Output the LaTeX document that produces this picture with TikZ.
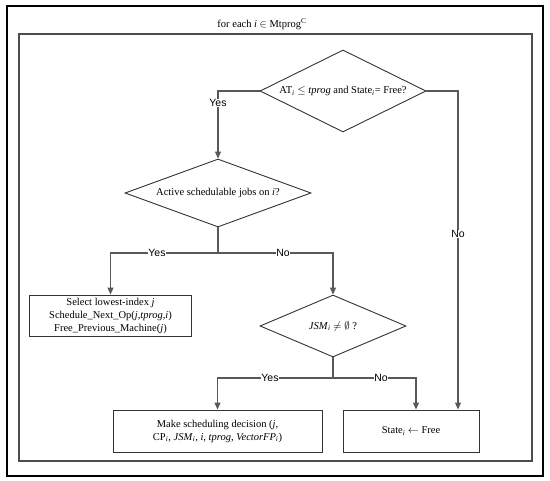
\documentclass[tikz,border=0pt]{standalone}
\usepackage{fontspec}
\setmainfont{Liberation Serif}
\newfontfamily\arialfont{Liberation Sans}
\usetikzlibrary{shapes.geometric,arrows.meta}
\newcommand{\sbi}{\textsubscript{\textit{i}}}
\begin{document}
\begin{tikzpicture}[x=1bp,y=-1bp,
  every node/.style={font=\fontsize{10.5bp}{13bp}\selectfont},
  decision/.style={diamond,draw=black!80,line width=0.9bp,inner sep=0pt},
  procbox/.style={rectangle,draw=black!80,line width=1bp,inner sep=0pt,align=center},
  arr/.style={draw=black!65,line width=1.2bp,-{Triangle[length=7bp,width=6bp]}},
  conn/.style={draw=black!65,line width=1.2bp},
  lbl/.style={fill=white,inner sep=0.5bp,font=\arialfont\fontsize{10.5bp}{12bp}\selectfont}]
\useasboundingbox (0,0) rectangle (550,481);
\draw[line width=2bp] (7,6) rectangle (543,476);
\draw[line width=1.5bp,draw=black!70] (19,34) rectangle (532,461);
\node (title) at (262,24) {for each \textit{i} $\in$ Mtprog\textsuperscript{C}};

\node[decision,shape aspect=2.05,minimum width=166bp,minimum height=82bp] (d1) at (343,91)
  {AT\sbi{} $\leq$ \textit{tprog} and State\sbi= Free?};
\node[decision,shape aspect=3,minimum width=186bp,minimum height=68bp] (d2) at (218,193)
  {Active schedulable jobs on \textit{i}?};
\node[decision,shape aspect=3,minimum width=146bp,minimum height=62bp] (d3) at (333,326)
  {\textit{JSM}\sbi{} $\neq$ $\emptyset$ ?};

\node[procbox,minimum width=161bp,minimum height=41bp] (sel) at (110.5,315.5)
  {Select lowest-index \textit{j}\\Schedule\_Next\_Op(\textit{j,tprog,i})\\Free\_Previous\_Machine(\textit{j})};
\node[procbox,minimum width=209bp,minimum height=42bp] (make) at (217.5,431)
  {Make scheduling decision (\textit{j},\\CP\sbi, \textit{JSM}\sbi, \textit{i}, \textit{tprog}, \textit{VectorFP}\sbi)};
\node[procbox,minimum width=136bp,minimum height=42bp] (state) at (411,431)
  {State\sbi{} $\leftarrow$ Free};

\coordinate (j2) at (218,253);
\coordinate (j3) at (333,378);

\draw[arr] (d1.west) -| (d2.north);
\draw[arr] (d1.east) -| ([xshift=47bp]state.north);
\draw[conn] (d2.south) -- (j2);
\draw[arr] (j2) -| (sel.north);
\draw[arr] (j2) -| (d3.north);
\draw[conn] (d3.south) -- (j3);
\draw[arr] (j3) -| (make.north);
\draw[arr] (j3) -| ([xshift=5bp]state.north);

\node[lbl] (yes1) at (218,103) {Yes};
\node[lbl] (no1) at (458,234) {No};
\node[lbl] (yes2) at (157,253) {Yes};
\node[lbl] (no2) at (283,253) {No};
\node[lbl] (yes3) at (270,378) {Yes};
\node[lbl] (no3) at (381,378) {No};
\end{tikzpicture}
\end{document}
